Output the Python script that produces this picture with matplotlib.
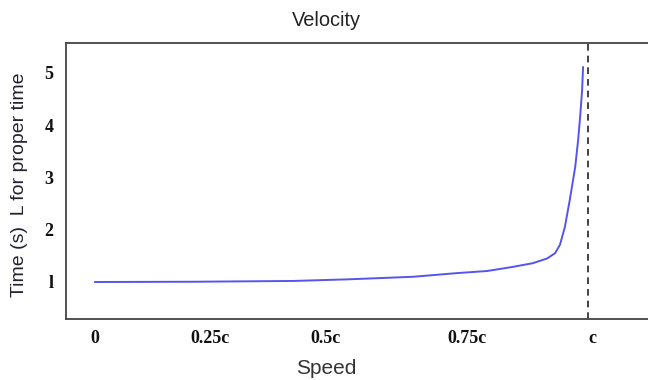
import matplotlib
matplotlib.use("Agg")
import matplotlib.pyplot as plt

# speed as a fraction of c, and time dilation factor
speed = [0.0, 0.2, 0.402, 0.511, 0.645, 0.734, 0.795, 0.848, 0.888, 0.917,
         0.933, 0.943, 0.953, 0.963, 0.974, 0.980, 0.984, 0.988, 0.990]
gamma = [1.0, 1.005, 1.02, 1.05, 1.10, 1.17, 1.21, 1.29, 1.36, 1.45,
         1.55, 1.71, 2.05, 2.57, 3.20, 3.72, 4.16, 4.67, 5.11]

x_ticks = [0.0, 0.233, 0.467, 0.755, 1.008]
x_labels = ["0", "0.25c", "0.5c", "0.75c", "c"]
y_ticks = [1, 2, 3, 4, 5]
y_labels = ["l", "2", "3", "4", "5"]

fig = plt.figure(figsize=(6.48, 3.8), dpi=100)
ax = fig.add_axes([66 / 648, 1 - 319 / 380, (650 - 66) / 648, (319 - 43) / 380])

ax.plot(speed, gamma, color="#5555ee", lw=1.4)
ax.axvline(1.0, color="#222222", lw=1.2, ls=(0, (4, 3)))

ax.set_xlim(-0.059, (650 - 95) / 493)
ax.set_ylim(1 - 37 / 52.25, 5 + 30 / 52.25)

ax.set_xticks(x_ticks)
ax.set_xticklabels(x_labels)
ax.set_yticks(y_ticks)
ax.set_yticklabels(y_labels)
ax.tick_params(length=0, labelsize=13, colors="#111111")
for lab in ax.get_xticklabels() + ax.get_yticklabels():
    lab.set_family("Liberation Serif")
    lab.set_weight("bold")
ax.tick_params(axis="x", pad=8)
ax.tick_params(axis="y", pad=9)

for s in ["left", "top", "bottom"]:
    ax.spines[s].set_color("#444444")
    ax.spines[s].set_linewidth(1.3)
ax.spines["right"].set_visible(False)

fig.text(326 / 648, 1 - 20 / 380, "Velocity", ha="center", va="center",
         family="Liberation Sans", fontsize=14.4, color="#222222")
fig.text(326 / 648, 1 - 368 / 380, "Speed", ha="center", va="center",
         family="Liberation Sans", fontsize=15, color="#333333")
fig.text(20 / 648, 1 - 185 / 380, "Time (s)  L for proper time", ha="center",
         va="center", rotation=90, family="Liberation Sans", fontsize=14,
         color="#222233")

fig.savefig("out.png", dpi=100)
